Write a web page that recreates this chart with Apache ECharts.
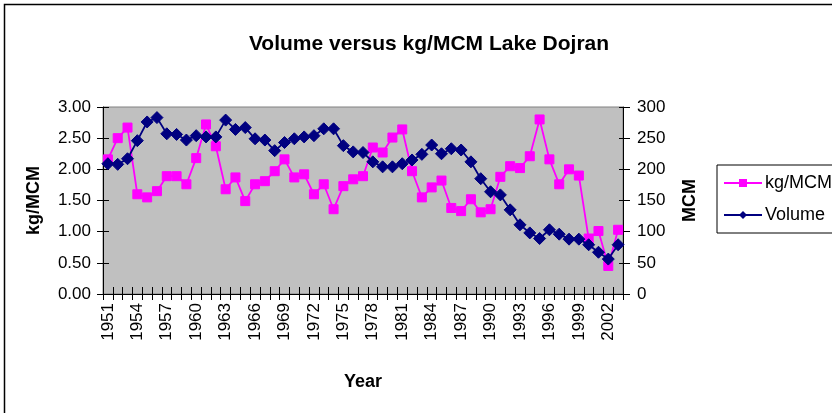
<!DOCTYPE html>
<html>
<head>
<meta charset="utf-8">
<script src="https://cdn.jsdelivr.net/npm/echarts@6/dist/echarts.min.js"></script>
<style>
html,body{margin:0;padding:0;background:#fff;}
#chart{width:832px;height:413px;}
</style>
</head>
<body>
<div id="chart"></div>
<script>
var years = [];
for (var y = 1951; y <= 2003; y++) years.push(String(y));

var kgPerMCM = [2.16,2.50,2.67,1.60,1.55,1.65,1.89,1.89,1.76,2.18,2.72,2.37,1.68,1.87,1.49,1.76,1.81,
  1.97,2.16,1.87,1.92,1.60,1.76,1.36,1.73,1.84,1.89,2.35,2.27,2.51,2.64,1.97,1.55,1.71,
  1.82,1.38,1.33,1.52,1.31,1.36,1.88,2.05,2.02,2.21,2.80,2.16,1.76,2.00,1.90,0.89,1.01,0.45,1.03];

var volume = [209,208,217,246,276,283,257,256,247,254,252,252,279,264,267,249,247,
  230,243,249,252,254,265,265,238,228,227,212,204,204,209,215,224,239,
  225,233,231,212,185,164,159,135,111,98,89,103,96,88,88,79,67,56,79];

var titleText = 'Volume versus kg/MCM Lake Dojran';
var leftAxisName = 'kg/MCM';
var rightAxisName = 'MCM';
var xAxisName = 'Year';
var seriesNames = ['kg/MCM', 'Volume'];

var FONT = 'Liberation Sans, Arial, sans-serif';
var chart = echarts.init(document.getElementById('chart'), null, {renderer: 'canvas'});

var option = {
  animation: false,
  backgroundColor: '#ffffff',
  textStyle: {fontFamily: FONT},
  title: {
    text: titleText,
    left: 424, top: 29, textAlign: 'center',
    textStyle: {fontFamily: FONT, fontSize: 21, fontWeight: 'bold', color: '#000'}
  },
  graphic: [{
    type: 'rect', shape: {x: 4.5, y: 4.5, width: 840, height: 430},
    style: {fill: 'none', stroke: '#000', lineWidth: 1.5}, silent: true, z: -1
  }],
  legend: {
    orient: 'vertical', left: 717, top: 165,
    data: seriesNames,
    borderColor: '#000', borderWidth: 1,
    padding: [9, 40, 9, 6],
    itemWidth: 38, itemHeight: 10, itemGap: 14,
    textStyle: {fontFamily: FONT, fontSize: 18, color: '#000', padding: [0,0,0,-2]}
  },
  grid: {
    left: 103, top: 107, width: 520, height: 187,
    show: true, backgroundColor: '#c0c0c0', borderColor: '#808080', borderWidth: 1
  },
  xAxis: [{
    type: 'category', data: years, boundaryGap: true,
    axisLine: {lineStyle: {color: '#000', width: 1}},
    axisTick: {show: true, interval: 0, length: 6, lineStyle: {color: '#000'}},
    axisLabel: {interval: 2, rotate: 90, fontSize: 17, color: '#000', fontFamily: FONT, margin: 9},
    name: xAxisName, nameLocation: 'middle', nameGap: 79,
    nameTextStyle: {fontFamily: FONT, fontSize: 18, fontWeight: 'bold', color: '#000'},
    splitLine: {show: false}
  }, {
    type: 'category', data: years, boundaryGap: true, position: 'bottom',
    axisLine: {show: false},
    axisTick: {show: true, inside: true, interval: 0, length: 7, lineStyle: {color: '#000'}},
    axisLabel: {show: false}, splitLine: {show: false}
  }],
  yAxis: [{
    type: 'value', min: 0, max: 3, interval: 0.5, position: 'left',
    axisLine: {show: true, lineStyle: {color: '#000', width: 1}},
    axisTick: {show: true, length: 6, lineStyle: {color: '#000'}},
    axisLabel: {formatter: function (v) { return v.toFixed(2); }, fontSize: 17, color: '#000', fontFamily: FONT, margin: 12},
    splitLine: {show: false},
    name: leftAxisName, nameLocation: 'middle', nameGap: 60, nameRotate: 90,
    nameTextStyle: {fontFamily: FONT, fontSize: 18, fontWeight: 'bold', color: '#000'}
  }, {
    type: 'value', min: 0, max: 300, interval: 50, position: 'right',
    axisLine: {show: true, lineStyle: {color: '#000', width: 1}},
    axisTick: {show: true, length: 7, lineStyle: {color: '#000'}},
    axisLabel: {fontSize: 17, color: '#000', fontFamily: FONT, margin: 14},
    splitLine: {show: false},
    name: rightAxisName, nameLocation: 'middle', nameGap: 58, nameRotate: 90,
    nameTextStyle: {fontFamily: FONT, fontSize: 18, fontWeight: 'bold', color: '#000'}
  }, {
    type: 'value', min: 0, max: 3, interval: 0.5, position: 'left',
    axisLine: {show: false},
    axisTick: {show: true, inside: true, length: 6, lineStyle: {color: '#000'}},
    axisLabel: {show: false}, splitLine: {show: false}
  }, {
    type: 'value', min: 0, max: 300, interval: 50, position: 'right',
    axisLine: {show: false},
    axisTick: {show: true, inside: true, length: 4, lineStyle: {color: '#000'}},
    axisLabel: {show: false}, splitLine: {show: false}
  }],
  series: [{
    name: seriesNames[0], type: 'line', data: kgPerMCM,
    xAxisIndex: 0, yAxisIndex: 0,
    symbol: 'rect', symbolSize: 9, showAllSymbol: true,
    lineStyle: {color: '#ff00ff', width: 1.8},
    itemStyle: {color: '#ff00ff', borderColor: '#ff00ff'},
    z: 3
  }, {
    name: seriesNames[1], type: 'line', data: volume,
    xAxisIndex: 0, yAxisIndex: 1,
    symbol: 'diamond', symbolSize: 12, showAllSymbol: true,
    lineStyle: {color: '#000080', width: 1.8},
    itemStyle: {color: '#000080', borderColor: '#000080'},
    z: 4
  }]
};
chart.setOption(option);
</script>
</body>
</html>
